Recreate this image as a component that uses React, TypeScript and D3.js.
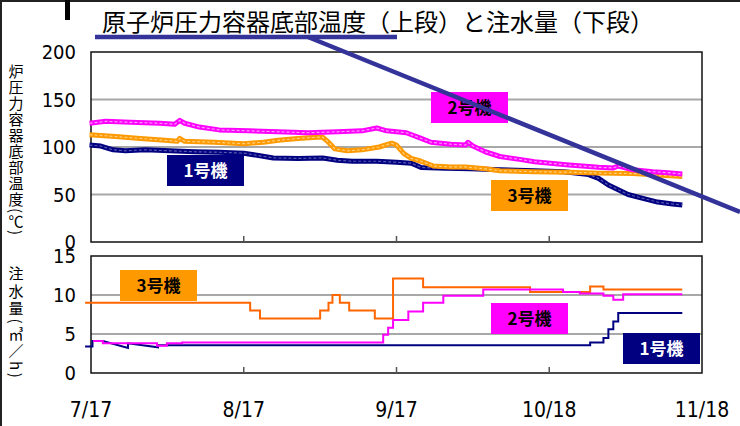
import React from "react";
import * as d3 from "d3";

// ---- Data ----
const title = "原子炉圧力容器底部温度（上段）と注水量（下段）";
const tempAxisTitle = "炉圧力容器底部温度(℃)";
const flowAxisTitle = "注水量(㎥／h)";
const xTickLabels = ["7/17", "8/17", "9/17", "10/18", "11/18"];
const xTickDates = ["2011-07-17", "2011-08-17", "2011-09-17", "2011-10-18", "2011-11-18"];
const tempTicks = [0, 50, 100, 150, 200];
const flowTicks = [0, 5, 10, 15];
const unitNames = ["1号機", "2号機", "3号機"];

// temperature [days since 7/17, °C]
const unit1Temp: [number, number][] = [
  [-0.3, 102], [2, 101], [4.5, 97], [7, 96], [11, 97], [16, 96], [21, 95], [26, 94.5], [31, 93.5], [34, 91],
  [37, 88.5], [42, 88], [47, 88.5], [50, 86], [53, 85], [58, 85], [62, 84], [65, 83], [67, 78.5], [72, 77.5],
  [77, 77], [83, 76], [90, 75], [96, 74], [101, 71], [103, 67], [105, 60], [107, 55], [109, 50], [112, 46],
  [115, 42], [118, 40], [120, 39],
];
const unit2Temp: [number, number][] = [
  [-0.3, 125], [3, 127], [8, 126], [14, 125], [17, 124], [18, 128], [19, 125], [22, 121], [26, 118], [32, 117],
  [38, 116], [44, 115], [50, 116], [55, 117], [58, 120], [60, 117], [64, 115], [67, 109], [69, 105], [73, 103],
  [76, 102], [76.5, 105], [77.5, 101], [80, 95], [83, 90], [87, 87], [90, 84.5], [97, 81], [103, 78.6], [106, 78],
  [107, 80], [110, 76], [114, 74], [117, 73], [120, 71.5],
];
const unit3Temp: [number, number][] = [
  [-0.3, 113], [5, 111], [10, 109], [15, 107], [17.5, 106], [18, 109], [19, 106], [25, 105], [31, 103.5], [35, 105],
  [38, 107], [42, 109], [45, 110], [47, 110.5], [48, 106], [49.5, 98], [52, 96], [55, 97], [58.5, 100], [61, 104],
  [62, 102], [63.5, 93], [65, 88], [67, 85], [69.5, 80], [73, 79], [76, 79], [80, 77], [83, 75], [90, 74],
  [97, 73.5], [103, 72.5], [110, 72], [115, 70.5], [120, 69],
];

// water injection [days since 7/17, m3/h]
const unit1Flow: [number, number][] = [
  [-1.2, 3.4], [0.3, 3.4], [0.3, 4.1], [2.4, 4.1], [7.5, 3.2], [7.5, 3.8], [13.6, 3.3], [13.6, 3.55],
  [101.3, 3.55], [101.3, 3.9], [104, 3.9], [104, 4.5], [105, 4.5], [105, 5.6], [106, 5.6], [106, 6.6],
  [107, 6.6], [107, 7.7], [120, 7.7],
];
const unit2Flow: [number, number][] = [
  [0.4, 4.1], [2.4, 3.8], [13.4, 3.5], [15.4, 3.8], [18.5, 3.9], [59.3, 4.9], [60.3, 5.8], [61.3, 6.8],
  [64.4, 7.9], [67.4, 9.0], [71.5, 9.9], [79.6, 10.7], [95.8, 10.4], [99.2, 10.2], [104, 9.9], [106, 9.4],
  [108, 10.1], [120, 10.1],
];
const unit3Flow: [number, number][] = [
  [-1.2, 9.0], [32.3, 8.0], [34.3, 7.0], [46.5, 8.0], [48.2, 9.0], [49, 10.0], [50.5, 9.0], [52.4, 8.0],
  [57.6, 7.0], [61.3, 12.1], [67.4, 11.0], [89.1, 10.4], [101.3, 11.1], [104, 10.7], [120, 10.7],
];

// ---- Layout ----
const W = 740, H = 426;
const plotL = 91, plotR = 702;
const topT = 52, topB = 242;
const botT = 256, botB = 373;

const base = Date.UTC(2011, 6, 17);
const dayToDate = (d: number) => new Date(base + d * 864e5);

const x = d3.scaleUtc().domain([new Date(xTickDates[0]), new Date(xTickDates[4])]).range([plotL, plotR]);
const yT = d3.scaleLinear().domain([0, 200]).range([topB, topT]);
const yF = d3.scaleLinear().domain([0, 15]).range([botB, botT]);

const tempLine = d3.line<[number, number]>().x((d) => x(dayToDate(d[0]))).y((d) => yT(d[1]));
const flowStep = d3.line<[number, number]>().x((d) => x(dayToDate(d[0]))).y((d) => yF(d[1])).curve(d3.curveStepAfter);
const flowLin = d3.line<[number, number]>().x((d) => x(dayToDate(d[0]))).y((d) => yF(d[1]));

const NAVY = "#000080", MAG = "#FF00FF", ORANGE = "#FF9900", ORANGE2 = "#FF6600", INDIGO = "#333399";
const numFont = "'DejaVu Sans Condensed', 'DejaVu Sans', sans-serif";
const jpFont = "'Noto Sans CJK JP', sans-serif";

function Label({ x0, y0, text, fill, color }: { x0: number; y0: number; text: string; fill: string; color: string }) {
  return (
    <g>
      <rect x={x0} y={y0} width={77} height={31} fill={fill} />
      <text x={x0 + 38.5} y={y0 + 22} textAnchor="middle" fontFamily={jpFont} fontWeight="bold" fontSize={17} fill={color}>
        {text}
      </text>
    </g>
  );
}

function TempSeries({ data, color, tint }: { data: [number, number][]; color: string; tint: string }) {
  const d = tempLine(data) || "";
  return (
    <g>
      <path d={d} fill="none" stroke={color} strokeWidth={5} strokeLinejoin="round" />
      <path d={d} fill="none" stroke={tint} strokeWidth={1.2} strokeDasharray="3 2" strokeLinejoin="round" />
    </g>
  );
}

export default function App() {
  return (
    <svg width={W} height={H} style={{ display: "block", position: "absolute", left: 0, top: 0, background: "#fff" }}>
      <rect width={W} height={H} fill="#fff" />
      {/* frame */}
      <line x1={0} x2={W} y1={1} y2={1} stroke="#222" strokeWidth={2} />
      <line x1={1} x2={1} y1={0} y2={H} stroke="#222" strokeWidth={2} />
      <rect x={65} y={0} width={5} height={20} fill="#000" />
      {/* title */}
      <text x={102} y={31} fontFamily={jpFont} fontSize={24} fill="#000">{title}</text>

      {/* top plot grid */}
      {tempTicks.filter((t) => t > 0 && t < 200).map((t) => (
        <line key={"gt" + t} x1={plotL} x2={plotR} y1={yT(t)} y2={yT(t)} stroke="#A8A8A8" strokeWidth={2} />
      ))}
      {/* bottom plot grid */}
      {flowTicks.filter((t) => t > 0 && t < 15).map((t) => (
        <line key={"gf" + t} x1={plotL} x2={plotR} y1={yF(t)} y2={yF(t)} stroke="#A8A8A8" strokeWidth={2} />
      ))}

      {/* frames */}
      <rect x={plotL} y={topT} width={plotR - plotL} height={topB - topT} fill="none" stroke="#111" strokeWidth={1.5} />
      <rect x={plotL} y={botT} width={plotR - plotL} height={botB - botT} fill="none" stroke="#111" strokeWidth={1.5} />
      {xTickDates.slice(1, 4).map((d) => (
        <g key={d}>
          <line x1={x(new Date(d))} x2={x(new Date(d))} y1={topB} y2={topB - 6} stroke="#555" strokeWidth={1.5} />
          <line x1={x(new Date(d))} x2={x(new Date(d))} y1={botB} y2={botB - 6} stroke="#555" strokeWidth={1.5} />
        </g>
      ))}

      {/* temperature lines */}
      <TempSeries data={unit1Temp} color={NAVY} tint="#5a5ab0" />
      <TempSeries data={unit3Temp} color={ORANGE} tint="#ffd080" />
      <TempSeries data={unit2Temp} color={MAG} tint="#ff99ff" />

      {/* flow lines */}
      <path d={flowStep(unit3Flow) || ""} fill="none" stroke={ORANGE2} strokeWidth={2} />
      <path d={flowLin(unit1Flow) || ""} fill="none" stroke={NAVY} strokeWidth={2} />
      <path d={flowStep(unit2Flow) || ""} fill="none" stroke={MAG} strokeWidth={2} />

      {/* y tick labels */}
      {tempTicks.map((t) => (
        <text key={"tt" + t} x={76} y={yT(t) + 7} textAnchor="end" fontFamily={numFont} fontStretch="condensed" fontSize={20} fill="#000">{t}</text>
      ))}
      {flowTicks.map((t) => (
        <text key={"ft" + t} x={76} y={yF(t) + 7} textAnchor="end" fontFamily={numFont} fontStretch="condensed" fontSize={20} fill="#000">{t}</text>
      ))}
      {/* x tick labels */}
      {xTickDates.map((d, i) => (
        <text key={"xl" + d} x={x(new Date(d))} y={417} textAnchor="middle" fontFamily={numFont} fontStretch="condensed" fontSize={21} fill="#000">{xTickLabels[i]}</text>
      ))}

      {/* axis titles */}
      <text x={16} y={64} fontFamily={jpFont} fontSize={15} letterSpacing={1} fill="#000" style={{ writingMode: "vertical-rl" }}>{tempAxisTitle}</text>
      <text x={16} y={266} fontFamily={jpFont} fontSize={15} letterSpacing={2.5} fill="#000" style={{ writingMode: "vertical-rl" }}>{flowAxisTitle}</text>

      {/* labels */}
      <Label x0={167} y0={155} text={unitNames[0]} fill={NAVY} color="#fff" />
      <Label x0={431} y0={92} text={unitNames[1]} fill={MAG} color="#000" />
      <Label x0={491} y0={180} text={unitNames[2]} fill={ORANGE} color="#000" />
      <Label x0={120} y0={270} text={unitNames[2]} fill={ORANGE} color="#000" />
      <Label x0={491} y0={303} text={unitNames[1]} fill={MAG} color="#000" />
      <Label x0={623} y0={333} text={unitNames[0]} fill={NAVY} color="#fff" />

      {/* annotation underline + diagonal */}
      <line x1={95} x2={397} y1={37} y2={37} stroke={INDIGO} strokeWidth={4.5} />
      <line x1={308} x2={W} y1={37} y2={212} stroke={INDIGO} strokeWidth={4.5} />
    </svg>
  );
}
